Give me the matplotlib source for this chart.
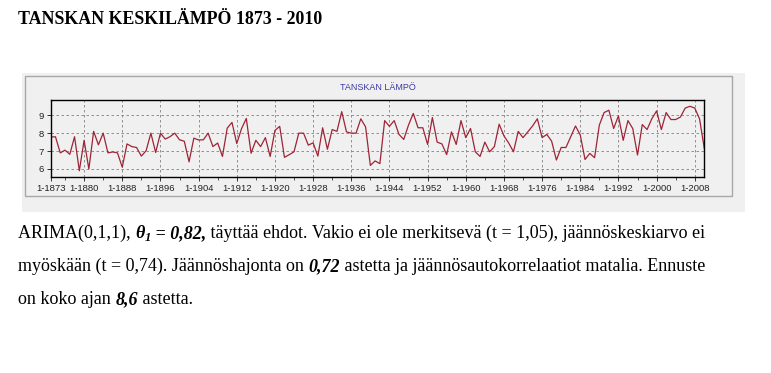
import matplotlib
matplotlib.use("Agg")
import matplotlib.pyplot as plt
from matplotlib.patches import Rectangle
from matplotlib.ticker import FixedLocator, MultipleLocator

# ---------------- data ----------------
years = list(range(1873, 2011))
temps = [
    7.78, 7.80, 6.90, 7.05, 6.82, 7.80, 5.90, 7.60, 6.00, 8.10,   # 1873-1882
    7.35, 8.00, 6.90, 6.95, 6.90, 6.10, 7.40, 7.25, 7.20, 6.72,   # 1883-1892
    7.02, 8.00, 6.92, 8.00, 7.67, 7.80, 8.00, 7.63, 7.55, 6.40,   # 1893-1902
    7.72, 7.62, 7.63, 8.00, 7.25, 7.45, 6.70, 8.28, 8.60, 7.42,   # 1903-1912
    8.25, 8.82, 6.88, 7.60, 7.25, 7.75, 6.70, 8.15, 8.38, 6.65,   # 1913-1922
    6.80, 6.96, 8.00, 8.00, 7.33, 7.46, 6.72, 8.30, 7.10, 8.20,   # 1923-1932
    8.10, 9.20, 8.07, 8.00, 8.00, 8.80, 8.35, 6.20, 6.45, 6.30,   # 1933-1942
    8.70, 8.38, 8.70, 7.93, 7.65, 8.45, 9.10, 8.30, 8.30, 7.37,   # 1943-1952
    8.87, 7.50, 7.40, 6.80, 8.07, 7.37, 8.70, 7.75, 8.26, 6.96,   # 1953-1962
    6.70, 7.50, 6.96, 7.25, 8.50, 7.85, 7.45, 6.96, 8.10, 7.75,   # 1963-1972
    8.07, 8.40, 8.80, 7.75, 7.93, 7.55, 6.50, 7.20, 7.20, 7.80,   # 1973-1982
    8.40, 7.90, 6.53, 6.87, 6.63, 8.45, 9.15, 9.28, 8.26, 8.96,   # 1983-1992
    7.60, 8.70, 8.26, 6.78, 8.48, 8.20, 8.80, 9.24, 8.20, 9.15,   # 1993-2002
    8.76, 8.76, 8.90, 9.40, 9.50, 9.40, 8.80, 7.15,               # 2003-2010
]
tick_years = [1873, 1880, 1888, 1896, 1904, 1912, 1920, 1928, 1936, 1944,
              1952, 1960, 1968, 1976, 1984, 1992, 2000, 2008]
tick_labels = ["1-%d" % y for y in tick_years]
y_ticks = [6, 7, 8, 9]

page_title = "TANSKAN KESKILÄMPÖ 1873 - 2010"
chart_title = "TANSKAN LÄMPÖ"

W, H = 771, 373
fig = plt.figure(figsize=(W / 100, H / 100), dpi=100)
fig.patch.set_facecolor("white")

def fx(px):
    return px / W

def fy(py):
    return 1 - py / H

# gray panel (behind the axes)
fig.patches.append(Rectangle((fx(22), fy(212)), fx(745) - fx(22), fy(73) - fy(212),
                             transform=fig.transFigure, facecolor="#f0f0f0",
                             edgecolor="none", zorder=-2))
fig.patches.append(Rectangle((fx(25), fy(196)), fx(732) - fx(25), fy(76) - fy(196),
                             transform=fig.transFigure, facecolor="#f0f0f0",
                             edgecolor="#a8a8a8", linewidth=1.0, zorder=-1))

fig.text(fx(18), fy(20), page_title, family="Liberation Serif", weight="bold",
         fontsize=12.9, va="center", ha="left", color="black")

ax = fig.add_axes([fx(50.7), fy(176.7), fx(704.3) - fx(50.7), fy(100) - fy(176.7)])
ax.set_facecolor("#f0f0f0")
ax.plot(years, temps, color="#9e2436", linewidth=0.9)
ax.set_xlim(1873, 2010)
ax.set_ylim(5.57, 9.85)
ax.xaxis.set_major_locator(FixedLocator(tick_years))
ax.set_xticklabels(tick_labels)
ax.xaxis.set_minor_locator(MultipleLocator(4))
ax.set_yticks(y_ticks)
ax.set_yticklabels([str(v) for v in y_ticks])
for lab in ax.get_xticklabels() + ax.get_yticklabels():
    lab.set_family("Liberation Sans")
    lab.set_fontsize(6.8)
    lab.set_color("#222222")
ax.tick_params(axis="both", which="major", length=3, width=0.7, pad=2, color="#333333")
ax.tick_params(axis="x", which="minor", length=2, width=0.6, color="#333333")
ax.grid(True, which="major", linestyle=(0, (3, 3)), color="#808080", linewidth=0.6)
for s in ax.spines.values():
    s.set_color("black")
    s.set_linewidth(1.0)

fig.text(fx(378), fy(88), chart_title, family="Liberation Sans", fontsize=6.5,
         color="#3a3aa8", ha="center", va="center")

# paragraph
FS = 13.0
SERIF = "Liberation Serif"
lines = [
    [("ARIMA(0,1,1), ", "n"), ("θ", "bi"), ("1", "sub"), (" = 0,82,", "bi"),
     (" täyttää ehdot. Vakio ei ole merkitsevä (t = 1,05), jäännöskeskiarvo ei", "n")],
    [("myöskään (t = 0,74). Jäännöshajonta on ", "n"), ("0,72", "bi"),
     (" astetta ja jäännösautokorrelaatiot matalia. Ennuste", "n")],
    [("on koko ajan ", "n"), ("8,6", "bi"), (" astetta.", "n")],
]
baselines = [238, 271, 304]
renderer = fig.canvas.get_renderer()
for runs, base in zip(lines, baselines):
    x = 18.0
    for txt, st in runs:
        kw = dict(family=SERIF, fontsize=FS, ha="left", va="baseline", color="black")
        y = base
        if st == "bi":
            kw.update(weight="bold", style="italic")
        elif st == "sub":
            kw.update(weight="bold", style="italic", fontsize=FS * 0.7)
            y = base + 3
        t = fig.text(fx(x), fy(y), txt.replace(" ", "\u00a0"), **kw)
        bb = t.get_window_extent(renderer)
        x += bb.width

fig.savefig("out.png", dpi=100)
